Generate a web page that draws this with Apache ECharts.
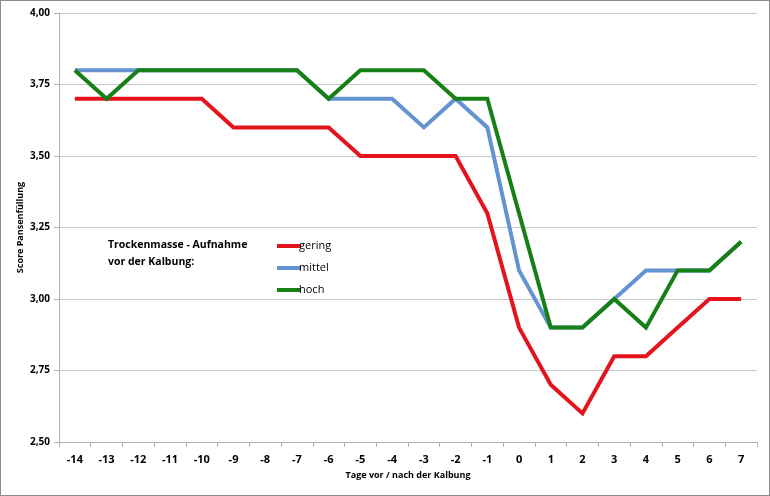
<!DOCTYPE html>
<html><head><meta charset="utf-8">
<script src="https://cdn.jsdelivr.net/npm/echarts@6/dist/echarts.min.js"></script>
<style>html,body{margin:0;padding:0;background:#fff}#c{width:770px;height:496px;box-sizing:border-box;border:1px solid #8c8c8c}</style>
</head><body><div id="c"></div>
<script>
const categories = ['-14','-13','-12','-11','-10','-9','-8','-7','-6','-5','-4','-3','-2','-1','0','1','2','3','4','5','6','7'];
const gering = [3.70,3.70,3.70,3.70,3.70,3.60,3.60,3.60,3.60,3.50,3.50,3.50,3.50,3.30,2.90,2.70,2.60,2.80,2.80,2.90,3.00,3.00];
const mittel = [3.80,3.80,3.80,3.80,3.80,3.80,3.80,3.80,3.70,3.70,3.70,3.60,3.70,3.60,3.10,2.90,2.90,3.00,3.10,3.10,3.10,3.20];
const hoch   = [3.80,3.70,3.80,3.80,3.80,3.80,3.80,3.80,3.70,3.80,3.80,3.80,3.70,3.70,3.30,2.90,2.90,3.00,2.90,3.10,3.10,3.20];
const seriesNames = ['gering','mittel','hoch'];
const colors = ['#e3141b','#6393d0','#168017'];
const font = "'Open Sans', sans-serif";
const chart = echarts.init(document.getElementById('c'));
const mk = (name, data, i) => ({
  name, type:'line', data, symbol:'none', z: 3+i,
  lineStyle:{width:4, color:colors[i], join:'miter'}, itemStyle:{color:colors[i]}
});
chart.setOption({
  animation:false,
  grid:{left:58, right:12, top:12, bottom:53},
  legend:{
    orient:'vertical', left:271, top:233, itemGap:8, itemWidth:24, itemHeight:4,
    icon:'rect', data:seriesNames,
    textStyle:{fontFamily:font, fontSize:11, color:'#000', padding:[0,0,0,-7], lineHeight:14}
  },
  graphic:[{type:'text', left:107, top:236, style:{
    text:'Trockenmasse - Aufnahme\nvor der Kalbung:', fontFamily:font, fontSize:10.5, fontWeight:'bold',
    fill:'#000', lineHeight:17}}],
  xAxis:{
    type:'category', data:categories, boundaryGap:true,
    name:'Tage vor / nach der Kalbung', nameLocation:'middle', nameGap:29,
    nameTextStyle:{fontFamily:font, fontSize:9, fontWeight:'bold', color:'#000'},
    axisLine:{lineStyle:{color:'#b0b0b0'}},
    axisTick:{show:true, alignWithLabel:false, length:5, lineStyle:{color:'#b0b0b0'}},
    axisLabel:{fontFamily:font, fontSize:11, fontWeight:'bold', color:'#000', margin:12}
  },
  yAxis:{
    type:'value', min:2.5, max:4.0, interval:0.25,
    name:'Score Pansenfüllung', nameLocation:'middle', nameGap:34, nameMoveOverlap:false,
    nameTextStyle:{fontFamily:font, fontSize:9, fontWeight:'bold', color:'#000'},
    axisLine:{show:true, lineStyle:{color:'#b0b0b0'}},
    axisTick:{show:true, length:5, inside:false, lineStyle:{color:'#b0b0b0'}},
    splitLine:{lineStyle:{color:'#c8c8c8'}},
    axisLabel:{fontFamily:font, fontSize:10, fontWeight:'bold', color:'#000', margin:9,
      formatter:v=>v.toFixed(2).replace('.',',')}
  },
  series:[mk('gering',gering,0), mk('mittel',mittel,1), mk('hoch',hoch,2)]
});
</script></body></html>
